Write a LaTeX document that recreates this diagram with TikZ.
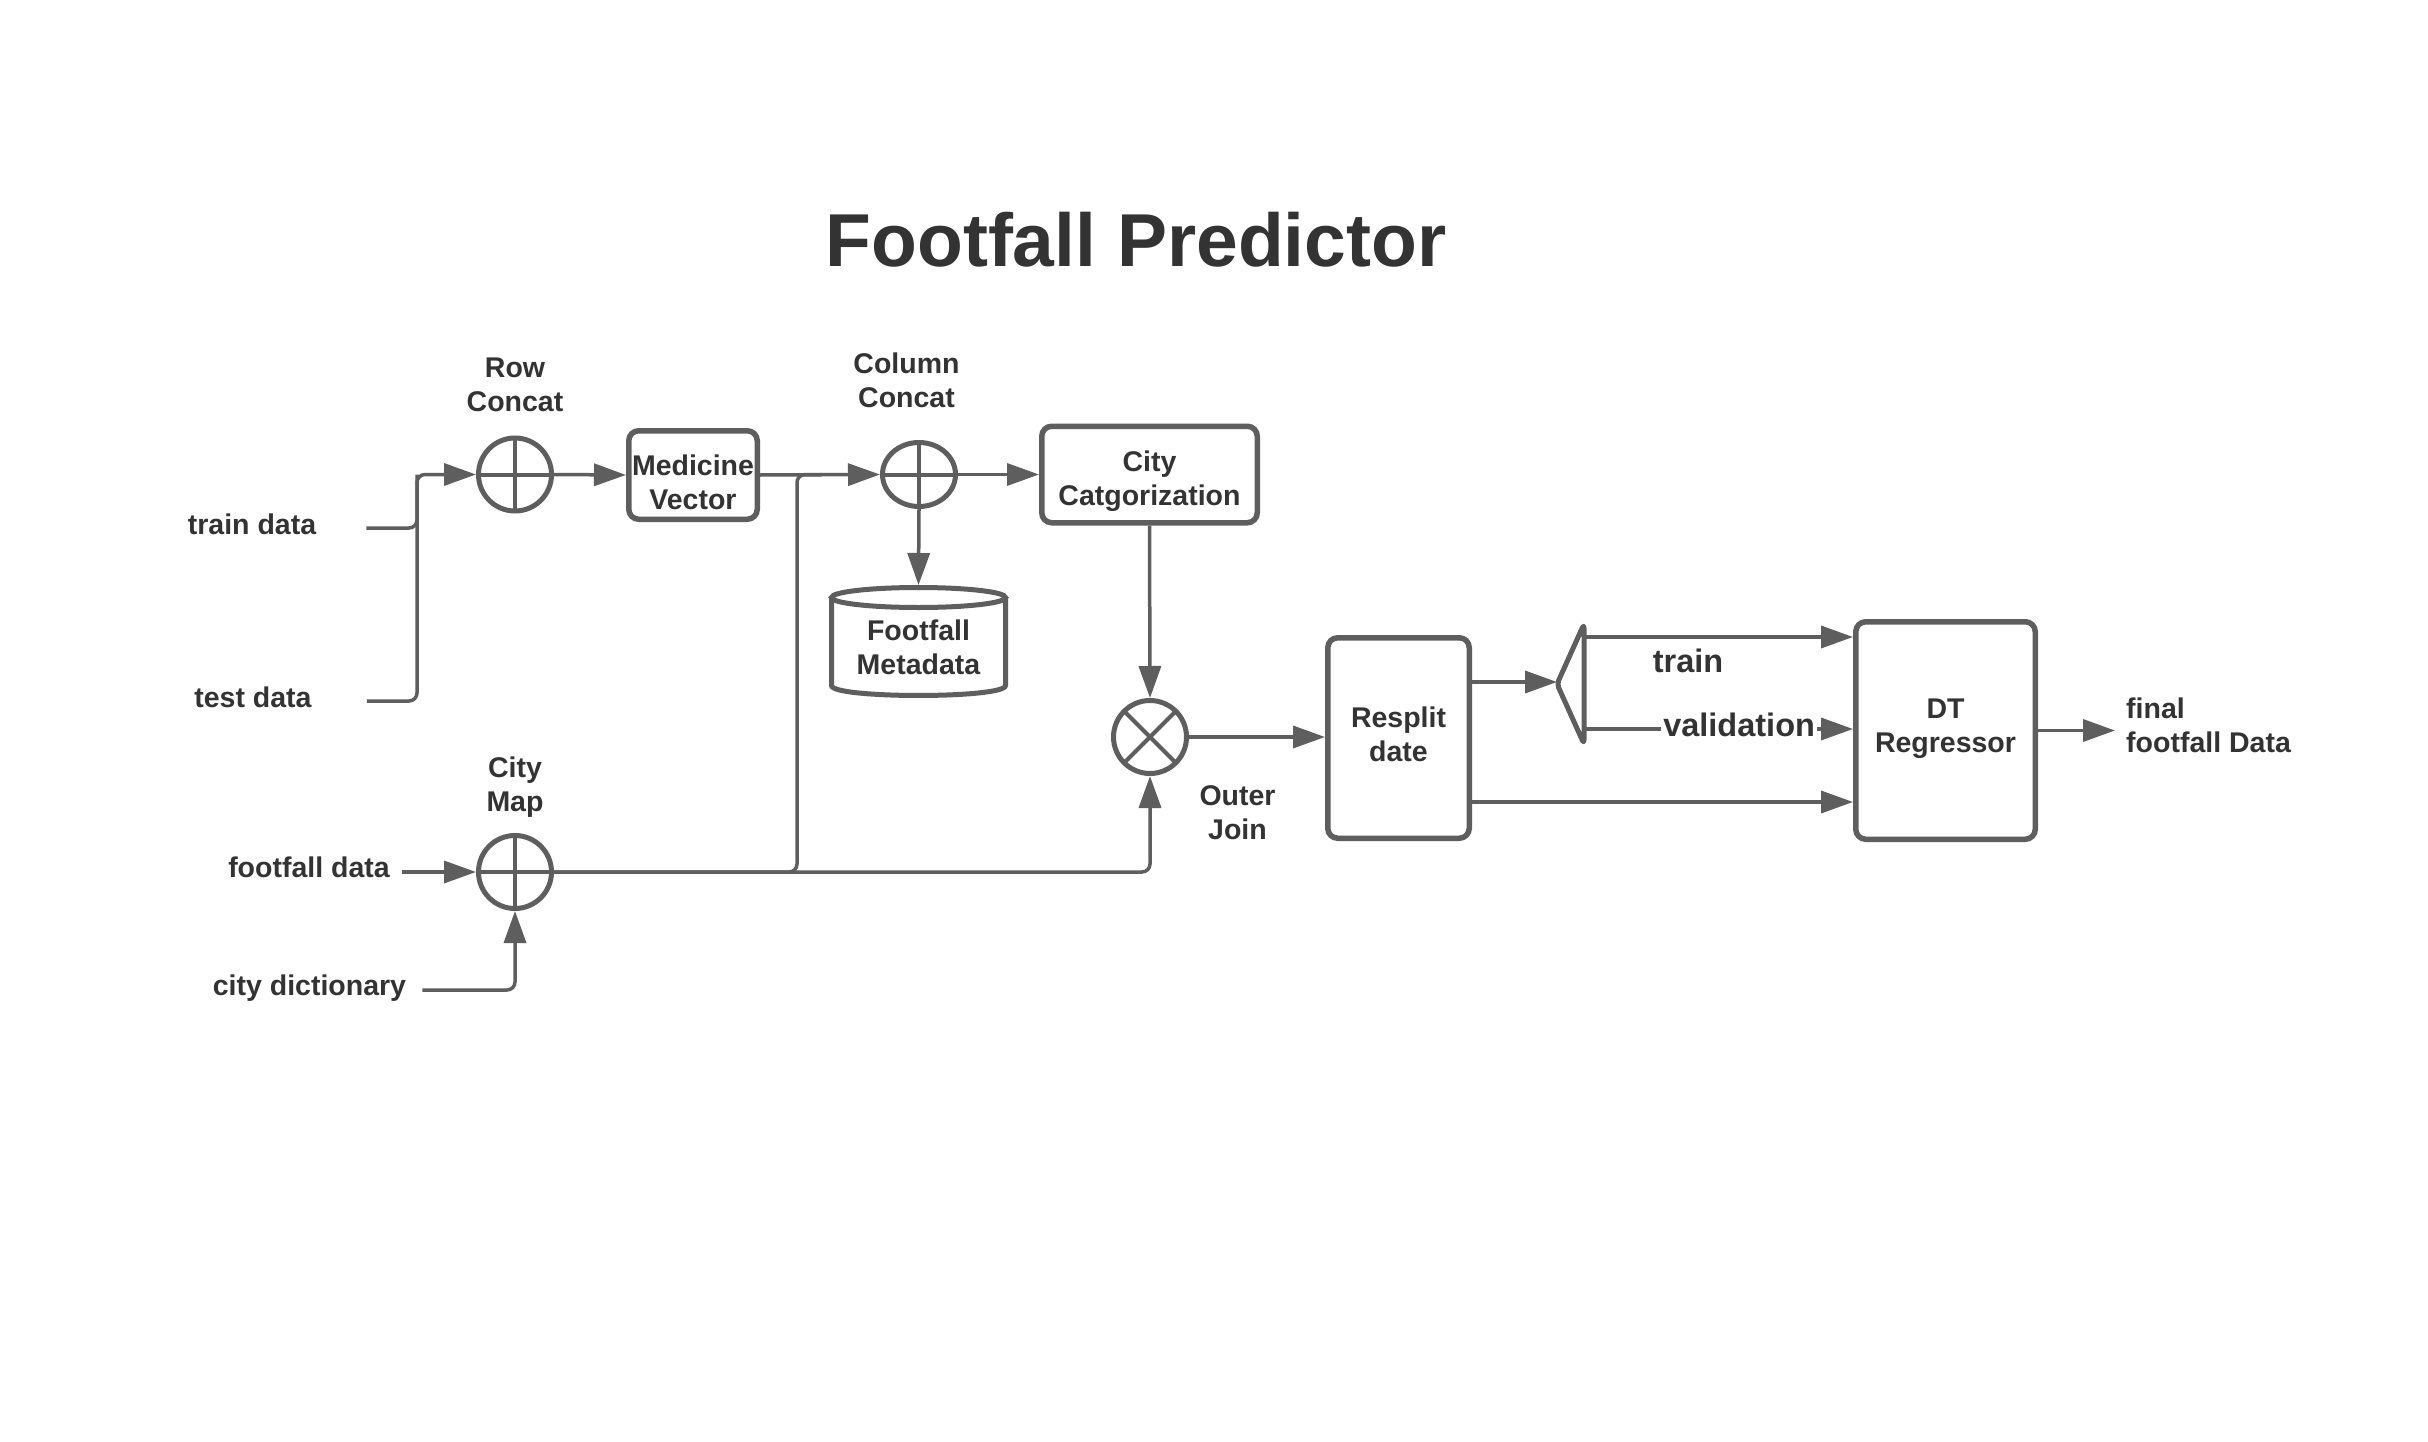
\documentclass[tikz,border=0pt]{standalone}
\usepackage{fontspec}
\setmainfont{Liberation Sans}
\usetikzlibrary{arrows.meta,calc,shapes.geometric}
\definecolor{lc}{HTML}{5E5E5E}
\definecolor{tc}{HTML}{333333}
\newcommand\lblfont{\bfseries\fontsize{28.5}{34}\selectfont}
\newcommand\bigfont{\bfseries\fontsize{32.5}{38}\selectfont}
\newcommand\ttlfont{\bfseries\fontsize{75}{90}\selectfont}
\begin{document}
\begin{tikzpicture}[x=1pt,y=-1pt,
  ln/.style={draw=lc, line width=3.5pt},
  arr/.style={ln, -{Triangle[length=32pt,width=22pt]}},
  opc/.style={circle, draw=lc, line width=5pt, minimum size=73pt, inner sep=0pt},
  plussign/.style={path picture={\draw[lc, line width=4pt]
      (path picture bounding box.north) -- (path picture bounding box.south)
      (path picture bounding box.west) -- (path picture bounding box.east);}},
  crosssign/.style={path picture={\draw[lc, line width=4pt]
      (path picture bounding box.north east) -- (path picture bounding box.south west)
      (path picture bounding box.north west) -- (path picture bounding box.south east);}},
  box/.style={draw=lc, line width=5.5pt, rounded corners=10pt, inner sep=0pt},
  lbl/.style={text=tc, font=\lblfont, align=center, inner sep=0pt},
]
\fill[white] (0,0) rectangle (2428,1442);
\useasboundingbox (0,0) rectangle (2428,1442);

% title
\node[lbl, font=\ttlfont, anchor=base] (ttl) at (1136,266) {Footfall Predictor};

% operators
\node[opc, plussign] (rc) at (515,474.5) {};
\node[opc, ellipse, minimum width=73pt, minimum height=64pt, plussign] (cc) at (919,474.5) {};
\node[opc, plussign] (cm) at (515,872) {};
\node[opc, crosssign] (oj) at (1150,737) {};

% boxes
\node[box, minimum width=128.5, minimum height=88.5,
  label={[lbl, yshift=-7.5]center:{Medicine\\Vector}}] (mv) at (693,475) {};
\node[box, minimum width=215.5, minimum height=96.5,
  label={[lbl, yshift=-7]center:{City\\Catgorization}}] (cat) at (1149.5,474.5) {};
\node[box, minimum width=141.5, minimum height=200.5,
  label={[lbl, yshift=3.4]center:{Resplit\\date}}] (rs) at (1398.5,738) {};
\node[box, minimum width=179.5, minimum height=217.5,
  label={[lbl, yshift=1.7]center:{DT\\Regressor}}] (dt) at (1945.5,730.5) {};

% cylinder (Footfall Metadata)
\node[minimum width=174, minimum height=108, inner sep=0pt, outer sep=2.5pt,
  label={[lbl, yshift=-6]center:{Footfall\\Metadata}}] (fm) at (918.5,641.5) {};
\draw[lc, line width=5pt] (831.5,597.5) -- (831.5,685.5)
  .. controls (831.5,698.8) and (1005.5,698.8) .. (1005.5,685.5) -- (1005.5,597.5);
\draw[lc, line width=5pt] (918.5,597.5) ellipse [x radius=87, y radius=10];

% splitter
\node[minimum width=27, minimum height=120, inner sep=0pt, outer sep=0pt] (sp) at (1570.5,684) {};
\draw[lc, line width=5pt, line join=round, rounded corners=4pt]
  (sp.north east) -- (sp.west) -- (sp.south east) -- cycle;

% text labels
\node[lbl, anchor=base] (ltr) at (252,534) {train data};
\node[lbl, anchor=base] (lte) at (253,707) {test data};
\node[lbl, anchor=base] (lff) at (309,877) {footfall data};
\node[lbl, anchor=base] (lcd) at (309.5,995) {city dictionary};
\node[lbl] (lrc) at (515,385) {Row\\Concat};
\node[lbl] (lcc) at (906.5,380.6) {Column\\Concat};
\node[lbl] (lcm) at (515,787.5) {City\\Map};
\node[lbl] (loj) at (1237.5,812.5) {Outer\\Join};
\node[lbl, font=\bigfont, anchor=base] (ltn) at (1688,672) {train};
\node[lbl, align=left, anchor=west, inner xsep=11pt] (lfo) at (2115,725) {final\\footfall Data};

% connectors
\coordinate (j1) at (417,474.5);
\draw[ln, rounded corners=8pt] ([shift={(50pt,6pt)}]ltr.base east) -| (j1);
\draw[arr, rounded corners=8pt] ([shift={(55pt,6pt)}]lte.base east) -| (j1) -- (rc.west);
\draw[arr] (rc.east) -- (mv.west);
\draw[arr] (mv.east) -- (cc.west);
\draw[arr] (cc.east) -- (cat.west);
\draw[arr] (cc.south) -- (fm.north);
\draw[arr] (cat.south) -- (oj.north);
\draw[arr] ([shift={(12pt,5pt)}]lff.base east) -- (cm.west);
\draw[arr, rounded corners=8pt] ([shift={(16pt,5pt)}]lcd.base east) -| (cm.south);
\coordinate (j2) at (797,474.5);
\draw[ln, rounded corners=8pt] (cm.east) -| (j2) -- ([xshift=25pt]j2);
\draw[arr, rounded corners=8pt] (cm.east) -| (oj.south);
\draw[arr] (oj.east) -- (oj.east -| rs.west);
\draw[arr] ([yshift=2pt]sp.west -| rs.east) -- ([yshift=2pt]sp.west);
\coordinate (tA) at ([yshift=-13pt]sp.north east);
\draw[arr] (tA) -- (tA -| dt.west);
\coordinate (vA) at ([yshift=15pt]sp.south east);
\draw[arr] (vA) -- node[lbl, font=\bigfont, fill=white, inner xsep=2pt, inner ysep=0pt,
  pos=0.5765, yshift=4pt] (lva) {validation} (vA -| dt.west);
\coordinate (rB) at ([yshift=39pt]rs.south east);
\draw[arr] (rB) -- (rB -| dt.west);
\draw[arr] (dt.east) -- (dt.east -| lfo.west);
\end{tikzpicture}
\end{document}
